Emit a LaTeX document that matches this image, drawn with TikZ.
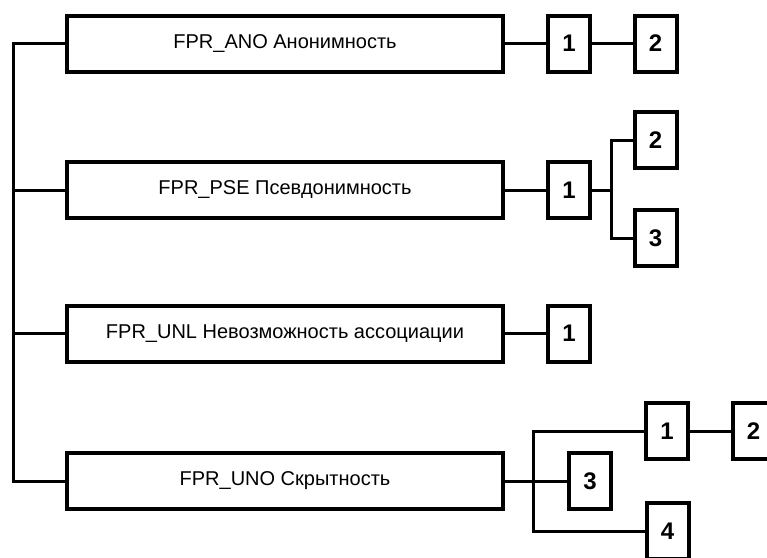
\documentclass[tikz,border=0pt]{standalone}
\usepackage{fontspec}
\setmainfont{Liberation Sans}
\begin{document}
\begin{tikzpicture}[x=1pt,y=-1pt,
 mainbox/.style={draw, line width=4pt, minimum width=436pt, minimum height=56pt, inner sep=0pt, font=\fontsize{20}{23}\selectfont},
 numbox/.style={draw, line width=4pt, minimum width=42pt, minimum height=56pt, inner sep=0pt, font=\fontsize{24}{26}\selectfont\bfseries},
 link/.style={line width=3pt}]
\useasboundingbox (0,0) rectangle (767,557);
\clip (0,0) rectangle (767,557);
\node[mainbox] (ano) at (285,43.5) {FPR\_ANO Анонимность};
\node[mainbox] (pse) at (285,190) {FPR\_PSE Псевдонимность};
\node[mainbox] (unl) at (285,333.5) {FPR\_UNL Невозможность ассоциации};
\node[mainbox] (uno) at (285,481) {FPR\_UNO Скрытность};
\node[numbox] (a1) at (569,43.5) {1};
\node[numbox] (a2) at (655.5,43.5) {2};
\node[numbox] (p1) at (569,190) {1};
\node[numbox] (p2) at (655.5,140) {2};
\node[numbox] (p3) at (655.5,238) {3};
\node[numbox] (l1) at (569,333.5) {1};
\node[numbox] (u1) at (667,431) {1};
\node[numbox] (u2) at (753.5,431) {2};
\node[numbox] (u3) at (590,481) {3};
\node[numbox] (u4) at (667.5,531) {4};
\coordinate (bt) at (13,43.5);
\coordinate (bb) at (13,481);
\draw[link] (ano.west) -- (bt) -- (bb) -- (uno.west);
\draw[link] (pse.west) -- (pse.west -| bt);
\draw[link] (unl.west) -- (unl.west -| bt);
\draw[link] (ano) -- (a1);
\draw[link] (a1) -- (a2);
\coordinate (pj) at (611,190);
\draw[link] (pse) -- (p1);
\draw[link] (p1.east) -- (pj);
\draw[link] (p2.west) -- (p2.west -| pj) -- (p3.west -| pj) -- (p3.west);
\draw[link] (unl) -- (l1);
\coordinate (uj) at (533,481);
\draw[link] (uno.east) -- (u3.west);
\draw[link] (u1.west) -- (u1.west -| uj) -- (u4.west -| uj) -- (u4.west);
\draw[link] (u1) -- (u2);
\end{tikzpicture}
\end{document}
